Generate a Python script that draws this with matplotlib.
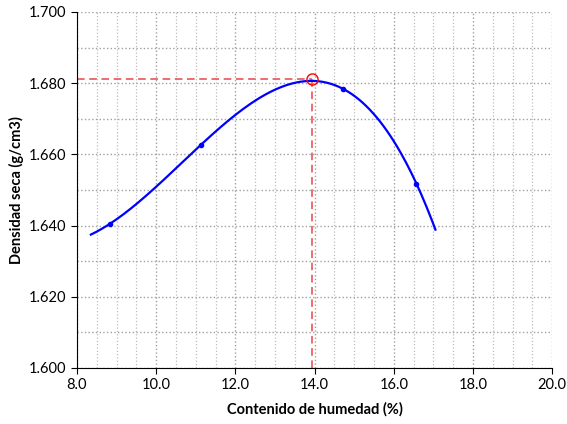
import numpy as np
import matplotlib.pyplot as plt
from matplotlib.ticker import MultipleLocator, FormatStrFormatter

# ensayo proctor: puntos medidos
humedad = [8.83, 11.12, 14.72, 16.57]
densidad = [1.6405, 1.6626, 1.6784, 1.6518]

# rango de la curva de ajuste
x_ini, x_fin = 8.35, 17.05

# optimo
w_opt = 13.94
d_max = 1.6812

plt.rcParams['font.family'] = ['Lato', 'DejaVu Sans']

fig = plt.figure(figsize=(5.67, 4.24), dpi=100)
ax = fig.add_axes([0.1358, 0.1321, 0.974 - 0.1358, 0.9717 - 0.1321])

# linea de tendencia polinomica (como en excel)
coef = np.polyfit(humedad, densidad, 3)
xs = np.linspace(x_ini, x_fin, 200)
ax.plot(xs, np.polyval(coef, xs), color='#0000ff', lw=1.6, zorder=3)
ax.plot(humedad, densidad, 'o', color='#0000ff', ms=3, zorder=4)

ax.plot([8, w_opt], [d_max, d_max], color='#e8474a', lw=1.1, ls=(0, (5, 3)), zorder=2)
ax.plot([w_opt, w_opt], [1.600, d_max], color='#e8474a', lw=1.1, ls=(0, (5, 3)), zorder=2)
ax.plot(w_opt, d_max, 'o', mfc='none', mec='red', ms=8, mew=1.0, zorder=5)

ax.set_xlim(8, 20)
ax.set_ylim(1.600, 1.700)
ax.xaxis.set_major_locator(MultipleLocator(2))
ax.xaxis.set_minor_locator(MultipleLocator(0.5))
ax.yaxis.set_major_locator(MultipleLocator(0.02))
ax.yaxis.set_minor_locator(MultipleLocator(0.01))
ax.xaxis.set_major_formatter(FormatStrFormatter('%.1f'))
ax.yaxis.set_major_formatter(FormatStrFormatter('%.3f'))

ax.grid(which='major', color='#a0a0a0', ls=':', lw=1.0)
ax.grid(which='minor', axis='y', color='#a0a0a0', ls=':', lw=1.0)
ax.grid(which='minor', axis='x', color='#bdbdbd', ls=':', lw=0.9)
ax.set_axisbelow(True)
ax.tick_params(which='minor', length=0)
ax.tick_params(which='major', direction='out', length=4, labelsize=10.5)
for s in ['top', 'right']:
    ax.spines[s].set_visible(False)

ax.set_xlabel('Contenido de humedad (%)', fontsize=10.5, fontweight='bold', labelpad=7)
ax.set_ylabel('Densidad seca (g/cm3)', fontsize=10.5, fontweight='bold', labelpad=4)

fig.savefig('out.png', dpi=100)
